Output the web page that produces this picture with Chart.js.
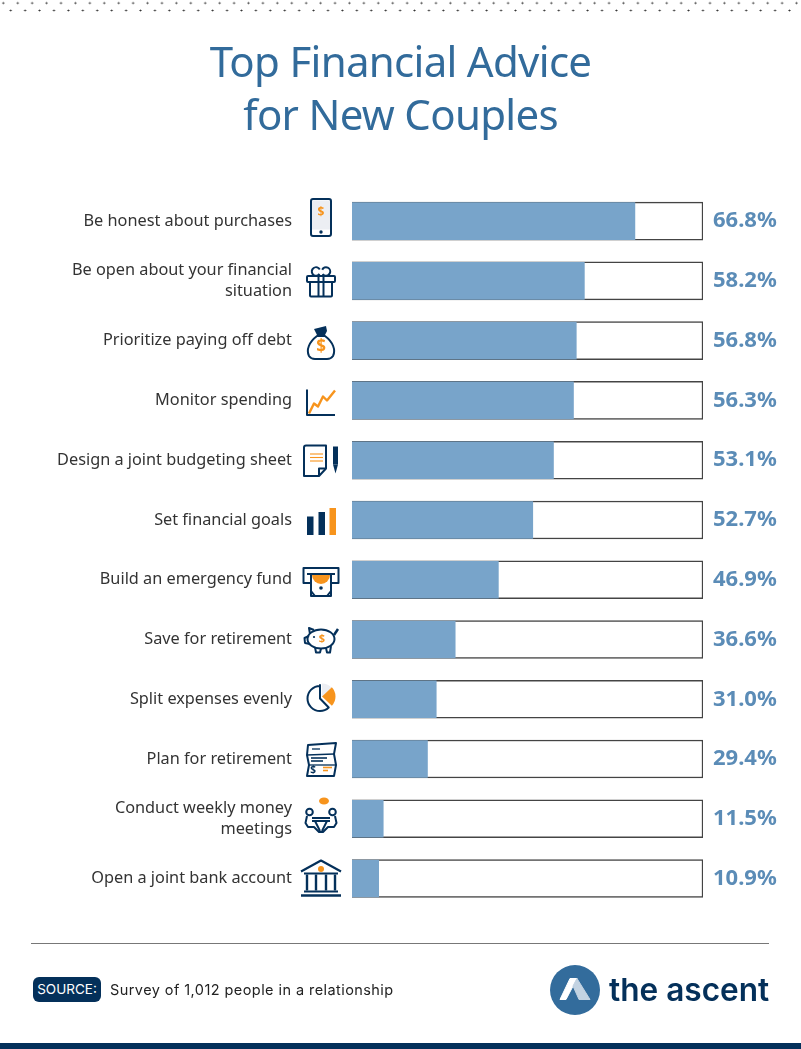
<!DOCTYPE html>
<html lang="en">
<head>
<meta charset="UTF-8">
<title>Top Financial Advice for New Couples</title>
<script src="https://cdn.jsdelivr.net/npm/chart.js"></script>
<style>
  html, body { margin: 0; padding: 0; background: #fff; }
  #page { position: relative; width: 801px; height: 1049px; overflow: hidden; }
  #chart { position: absolute; left: 0; top: 0; }
  #dots { position: absolute; left: 0; top: 0; width: 801px; height: 14px;
    background-image: radial-gradient(circle at center, #333 0.8px, transparent 1.2px), radial-gradient(circle at center, #333 0.8px, transparent 1.2px);
    background-size: 14.43px 7.4px, 14.43px 7.4px;
    background-position: -3.9px -0.4px, 3.5px 7px;
    background-repeat: repeat-x; }
  #title { position: absolute; left: 0; top: 34px; width: 801px; text-align: center; color: #326b9b;
    font: 42px/53px "Noto Sans", sans-serif; letter-spacing: -0.7px; }
  #rule { position: absolute; left: 31px; top: 943px; width: 738px; height: 1px; background: #777; }
  #badge { position: absolute; left: 33px; top: 977px; width: 68px; height: 25px; border-radius: 6px;
    background: #04305a; color: #fff; text-align: center; font: 13.5px/25px Inter, sans-serif; }
  #source { position: absolute; left: 110px; top: 977px; color: #222; font: 14.5px/25px Inter, sans-serif; letter-spacing: 0.43px; }
  #brand { position: absolute; left: 609px; top: 966px; color: #04305a; font: 600 31.6px/48px Inter, sans-serif; }
  #logo { position: absolute; left: 550px; top: 965px; }
  #foot { position: absolute; left: 0; bottom: 0; width: 801px; height: 6px; background: #04305a; }
</style>
</head>
<body>
<div id="page">
  <div id="dots"></div>
  <canvas id="chart" width="801" height="1049"></canvas>
  <div id="title">Top Financial Advice<br>for New Couples</div>
  <div id="rule"></div>
  <div id="badge">SOURCE:</div>
  <div id="source">Survey of 1,012 people in a relationship</div>
  <svg id="logo" width="50" height="50" viewBox="0 0 50 50">
    <circle cx="25" cy="25" r="25" fill="#336c9c"/>
    <path d="M10 34.5 L20 13.5 L27 13.5 L16 34.5 Z" fill="#fff" stroke="#fff" stroke-linejoin="round"/>
    <path d="M27 13.5 L40 34.5 L29 34.5 L23 21 Z" fill="#c3d3e2" stroke="#c3d3e2" stroke-linejoin="round"/>
  </svg>
  <div id="brand">the ascent</div>
  <div id="foot"></div>
</div>

<script>
  const categories = [
    ["Be honest about purchases"],
    ["Be open about your financial", "situation"],
    ["Prioritize paying off debt"],
    ["Monitor spending"],
    ["Design a joint budgeting sheet"],
    ["Set financial goals"],
    ["Build an emergency fund"],
    ["Save for retirement"],
    ["Split expenses evenly"],
    ["Plan for retirement"],
    ["Conduct weekly money", "meetings"],
    ["Open a joint bank account"]
  ];
  // printed percentages
  const valueLabels = ["66.8%", "58.2%", "56.8%", "56.3%", "53.1%", "52.7%", "46.9%", "36.6%", "31.0%", "29.4%", "11.5%", "10.9%"];
  // the blue fills in the picture are not drawn to the printed numbers, so their
  // lengths are read off separately, as % of the white track
  const barLengths = [80.6, 66.2, 63.9, 63.1, 57.4, 51.5, 41.7, 29.4, 24.0, 21.5, 8.9, 7.6];
  const trackLengths = [100, 100, 100, 100, 100, 100, 100, 100, 100, 100, 100, 100];

  const NAVY = "#04305a";
  const ORANGE = "#f7941d";
  const PALE = "#eceef3";

  function dollar(c, x, y, size) {
    c.save();
    c.fillStyle = ORANGE;
    c.font = "bold " + size + "px 'Noto Sans', sans-serif";
    c.textAlign = "center";
    c.textBaseline = "middle";
    c.fillText("$", x, y);
    c.restore();
  }

  function line(c, pts) {
    c.beginPath();
    pts.forEach((p, i) => i ? c.lineTo(p[0], p[1]) : c.moveTo(p[0], p[1]));
    c.stroke();
  }

  // icons, drawn around (0,0) = the middle of the icon
  const icons = [
    // phone
    c => {
      c.fillStyle = PALE;
      c.fillRect(-9, -17, 18, 29);
      c.beginPath(); c.roundRect(-10, -18.5, 20, 37, 2); c.stroke();
      dollar(c, 0, -5, 12);
      c.fillStyle = NAVY;
      c.beginPath(); c.arc(0, 14.5, 1.7, 0, 7); c.fill();
    },
    // gift
    c => {
      c.beginPath(); c.roundRect(-14, -6, 28, 6, 1); c.stroke();
      c.beginPath(); c.roundRect(-11, 0, 22, 14.5, 1); c.stroke();
      line(c, [[-2.5, -6], [-2.5, 14.5]]);
      line(c, [[2.5, -6], [2.5, 14.5]]);
      c.beginPath(); c.arc(-5, -10.5, 4.2, 0.6, 5.8); c.stroke();
      c.beginPath(); c.arc(5, -10.5, 4.2, -2.7, 2.5); c.stroke();
    },
    // money bag
    c => {
      c.beginPath();
      c.moveTo(-4, -7);
      c.bezierCurveTo(-12, -1, -15, 7, -12, 13);
      c.quadraticCurveTo(-10, 16, -6, 16);
      c.lineTo(6, 16);
      c.quadraticCurveTo(10, 16, 12, 13);
      c.bezierCurveTo(15, 7, 12, -1, 4, -7);
      c.closePath();
      c.stroke();
      c.fillStyle = NAVY;
      c.beginPath();
      c.moveTo(-4, -8); c.lineTo(-7, -14); c.lineTo(5, -17); c.lineTo(6, -12); c.lineTo(4, -8);
      c.closePath(); c.fill();
      dollar(c, 0, 4, 17);
    },
    // line chart
    c => {
      line(c, [[-14, -13], [-14, 12.5], [14, 12.5]]);
      c.strokeStyle = ORANGE;
      c.lineWidth = 2.4;
      line(c, [[-12, 11], [-7, 1], [-3, 4], [2, -6], [6, -2], [14, -12]]);
    },
    // sheet and pen
    c => {
      c.beginPath();
      c.moveTo(-17, -13); c.quadraticCurveTo(-17, -15, -15, -15); c.lineTo(5, -15); c.lineTo(5, 8); c.lineTo(-2, 15.5); c.lineTo(-17, 15.5);
      c.closePath(); c.stroke();
      line(c, [[5, 8], [-2, 8], [-2, 15.5]]);
      c.strokeStyle = ORANGE;
      c.lineWidth = 1.1;
      line(c, [[-11, -6.5], [2, -6.5]]);
      line(c, [[-11, -3], [2, -3]]);
      line(c, [[-11, 0.5], [2, 0.5]]);
      c.fillStyle = NAVY;
      c.fillRect(12, -14, 5, 18);
      c.beginPath(); c.moveTo(12, 4); c.lineTo(17, 4); c.lineTo(14.5, 13); c.closePath(); c.fill();
    },
    // small bars
    c => {
      c.fillStyle = NAVY;
      c.fillRect(-14, -5, 6.5, 18.5);
      c.fillRect(-2.5, -9.5, 6.5, 23);
      c.fillStyle = ORANGE;
      c.fillRect(8.5, -13.5, 6.5, 27);
    },
    // cash machine
    c => {
      c.strokeRect(-17.5, -14, 35, 15);
      c.fillStyle = "#fff";
      c.beginPath();
      c.moveTo(-10, -8); c.lineTo(10, -8); c.lineTo(10, 14); c.lineTo(-10, 14);
      c.closePath(); c.fill(); c.stroke();
      line(c, [[-14, -8], [14, -8]]);
      c.fillStyle = ORANGE;
      c.beginPath(); c.arc(0, -7, 9, 0, Math.PI); c.closePath(); c.fill();
      line(c, [[-10, 9], [-6, 14]]);
      line(c, [[10, 9], [6, 14]]);
      c.fillStyle = NAVY;
      c.beginPath(); c.arc(0, 6, 1.8, 0, 7); c.fill();
    },
    // piggy bank
    c => {
      c.beginPath(); c.ellipse(0, -1, 13.5, 9.5, 0, 0, 7); c.stroke();
      line(c, [[-11, -6], [-12, -12], [-7, -10]]);
      line(c, [[-12, -4], [-16.5, -2], [-16, 3], [-11, 4]]);
      line(c, [[-6, 7], [-5, 12.5], [-1, 12.5], [0, 8.5]]);
      line(c, [[5, 8], [6, 12.5], [9, 12.5], [10, 6]]);
      c.lineWidth = 2.5;
      line(c, [[13, -5], [17, -11]]);
      c.fillStyle = NAVY;
      c.beginPath(); c.arc(-7, -3, 1.1, 0, 7); c.fill();
      dollar(c, 1, -1, 11);
    },
    // pie
    c => {
      c.fillStyle = PALE;
      c.beginPath(); c.moveTo(1, -1); c.arc(1, -1, 13, -Math.PI / 2, -0.75); c.closePath(); c.fill();
      c.fillStyle = ORANGE;
      c.beginPath(); c.moveTo(1, -1); c.arc(1, -1, 13.5, -0.75, 0.75); c.closePath(); c.fill();
      c.beginPath();
      c.moveTo(-1, -12.5);
      c.arc(-1, 1, 12.5, -Math.PI / 2, 0.8, true);
      c.lineTo(-1, 1);
      c.closePath();
      c.stroke();
    },
    // cheque
    c => {
      c.beginPath();
      c.moveTo(-13, -15); c.lineTo(15, -17); c.lineTo(13, -6); c.lineTo(15, 5); c.lineTo(13, 16);
      c.lineTo(-14, 16); c.lineTo(-12, 5); c.lineTo(-14, -5);
      c.closePath(); c.stroke();
      c.lineWidth = 1.3;
      line(c, [[-14, -5], [13, -6]]);
      line(c, [[-12, 5], [15, 5]]);
      line(c, [[-9, -11], [-1, -11]]);
      c.lineWidth = 1.6;
      line(c, [[-10, -2], [6, -2]]);
      line(c, [[-10, 1], [2, 1]]);
      c.fillStyle = NAVY;
      c.font = "bold 10px 'Noto Sans', sans-serif";
      c.textAlign = "center";
      c.textBaseline = "middle";
      c.fillText("$", -8, 10.5);
      c.strokeStyle = ORANGE;
      line(c, [[2, 7.5], [11, 7.5]]);
      line(c, [[2, 10.5], [7, 10.5]]);
    },
    // two people meeting
    c => {
      c.beginPath(); c.arc(-11.5, -3, 3.3, 0, 7); c.stroke();
      c.beginPath(); c.arc(11.5, -3, 3.3, 0, 7); c.stroke();
      line(c, [[-14, 1], [-15.5, 8], [-13, 12], [-7, 12], [-2, 17], [2, 17], [7, 12], [13, 12], [15.5, 8], [14, 1]]);
      line(c, [[-9, 3], [9, 3]]);
      line(c, [[-9, 6], [9, 6]]);
      line(c, [[-6, 6], [-1, 16]]);
      line(c, [[6, 6], [1, 16]]);
      c.fillStyle = ORANGE;
      c.beginPath(); c.ellipse(3, -14, 5, 3.5, 0, 0, 7); c.fill();
    },
    // bank
    c => {
      c.lineWidth = 2.2;
      line(c, [[-20, -7], [0, -18], [20, -7]]);
      line(c, [[-17, -5], [17, -5]]);
      c.lineWidth = 2.4;
      [-14, -5, 5, 14].forEach(x => line(c, [[x, -4], [x, 12]]));
      c.lineWidth = 2;
      line(c, [[-17, 13], [17, 13]]);
      c.lineWidth = 2.4;
      line(c, [[-20, 17], [20, 17]]);
      c.fillStyle = ORANGE;
      c.beginPath(); c.arc(0, -9.5, 3, 0, 7); c.fill();
    }
  ];
  const iconCentreY = [217.5, 282, 343, 402.5, 460.5, 521.5, 582, 640, 697.5, 760, 815, 878.5];
  const ICON_X = 321;

  const iconPlugin = {
    id: "rowIcons",
    afterDatasetsDraw(chart) {
      const c = chart.ctx;
      icons.forEach((draw, i) => {
        c.save();
        c.translate(ICON_X, iconCentreY[i]);
        c.strokeStyle = NAVY;
        c.lineWidth = 2;
        c.lineJoin = "round";
        draw(c);
        c.restore();
      });
    }
  };

  new Chart(document.getElementById("chart"), {
    type: "bar",
    plugins: [iconPlugin],
    data: {
      labels: categories,
      datasets: [
        { data: barLengths, backgroundColor: "#78a4ca", borderWidth: 0, barThickness: 37, order: 1, yAxisID: "y" },
        { data: trackLengths, backgroundColor: "#fff", borderColor: "#444", borderWidth: 1.5, barThickness: 38, order: 2, yAxisID: "y" }
      ]
    },
    options: {
      indexAxis: "y",
      responsive: false,
      animation: false,
      layout: { padding: { left: 0, right: 0, top: 191.3, bottom: 140.6 } },
      datasets: { bar: { grouped: false } },
      plugins: { legend: { display: false }, tooltip: { enabled: false } },
      scales: {
        x: { min: 0, max: 100, display: false },
        y: {
          type: "category",
          position: "left",
          afterFit(s) { s.width = 352; },
          grid: { display: false },
          border: { display: false },
          ticks: { color: "#333", padding: 52, autoSkip: false, font: { family: "'Noto Sans', sans-serif", size: 16.3, lineHeight: 1.3 } }
        },
        y2: {
          type: "category",
          position: "right",
          labels: valueLabels,
          afterFit(s) { s.width = 98; },
          grid: { display: false },
          border: { display: false },
          ticks: { color: "#5b8cb7", padding: 2, autoSkip: false, font: { family: "'Noto Sans', sans-serif", size: 22, weight: "bold" } }
        }
      }
    }
  });
</script>
</body>
</html>
